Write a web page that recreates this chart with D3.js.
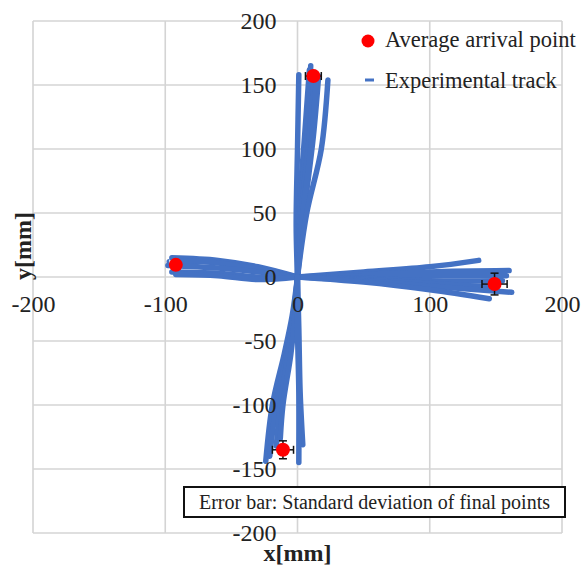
<!DOCTYPE html>
<html><head><meta charset="utf-8">
<script src="https://cdn.jsdelivr.net/npm/d3@7"></script>
<style>html,body{margin:0;padding:0;background:#fff;}svg{display:block;}</style>
</head><body>
<script>
// ---- data ----
const xTicks = [-200, -100, 0, 100, 200];
const yTicks = [200, 150, 100, 50, 0, -50, -100, -150, -200];

const tracksUp = [
  [[0,0],[-1,40],[0,100],[1,158]],
  [[0,0],[1,50],[5,105],[9,162]],
  [[0,0],[2,50],[7,110],[10,165]],
  [[0,0],[3,50],[9,110],[13,160]],
  [[0,0],[5,50],[12,110],[16,157]],
  [[0,0],[4,50],[10,100],[14,150]],
  [[0,0],[7,50],[18,100],[23,154]]
];
const tracksRight = [
  [[0,0],[50,4],[100,8],[137,13]],
  [[0,0],[50,2],[100,4],[160,5]],
  [[0,0],[50,1],[100,1],[158,1]],
  [[0,0],[50,-1],[100,-3],[155,-3]],
  [[0,0],[50,-2],[100,-5],[150,-8]],
  [[0,0],[50,-3],[100,-7],[162,-12]],
  [[0,0],[50,-4],[100,-10],[145,-17]]
];
const tracksLeft = [
  [[0,0],[-30,8],[-60,13],[-95,15]],
  [[0,0],[-30,6],[-60,11],[-97,12]],
  [[0,0],[-30,4],[-60,7],[-98,9]],
  [[0,0],[-30,0],[-60,3],[-95,4]],
  [[0,0],[-30,-2],[-60,1],[-92,2]]
];
const tracksDown = [
  [[0,0],[-4,-30],[-10,-60],[-19,-100],[-24,-144]],
  [[0,0],[-3,-30],[-8,-60],[-16,-100],[-21,-140]],
  [[0,0],[-3,-30],[-7,-60],[-13,-100],[-16,-132]],
  [[0,0],[-2,-30],[-5,-60],[-11,-100],[-13,-126]],
  [[0,0],[1,-40],[2,-90],[4,-131]],
  [[0,0],[0,-40],[1,-90],[1,-145]]
];
const avgX = [12, 149, -92, -11];
const avgY = [157, -5.5, 9.5, -135];
const errX = [6, 9.5, 3, 8];
const errY = [2, 8.5, 2, 7];

const legendLabels = ["Average arrival point", "Experimental track"];
const noteText = "Error bar: Standard deviation of final points";

// ---- drawing ----
const W = 583, H = 570;
const svg = d3.select("body").append("svg").attr("width", W).attr("height", H)
  .style("font-family", "'Liberation Serif','Times New Roman',serif");

const x = d3.scaleLinear().domain([-200, 200]).range([33, 562]);
const y = d3.scaleLinear().domain([-200, 200]).range([533, 21]);

// grid
const grid = svg.append("g").attr("stroke", "#d4d4d4").attr("stroke-width", 1.6);
grid.selectAll("line.v").data(xTicks).join("line")
  .attr("x1", d => x(d)).attr("x2", d => x(d)).attr("y1", y(200)).attr("y2", y(-200));
grid.selectAll("line.h").data(yTicks).join("line")
  .attr("y1", d => y(d)).attr("y2", d => y(d)).attr("x1", x(-200)).attr("x2", x(200));

// tracks
const line = d3.line().x(d => x(d[0])).y(d => y(d[1])).curve(d3.curveCatmullRom);
const allTracks = [].concat(tracksUp, tracksRight, tracksLeft, tracksDown);
svg.append("g").selectAll("path").data(allTracks).join("path")
  .attr("d", line).attr("fill", "none").attr("stroke", "#4472C4")
  .attr("stroke-width", 5.5).attr("stroke-linecap", "round").attr("stroke-linejoin", "round");

// axes labels
const fmt = d => String(d);
const yAxis = d3.axisLeft(y).tickValues(yTicks).tickFormat(fmt).tickSize(0).tickPadding(21);
const gy = svg.append("g").attr("transform", `translate(${x(0)},0)`).call(yAxis);
const xAxis = d3.axisBottom(x).tickValues(xTicks).tickFormat(fmt).tickSize(0).tickPadding(18);
const gx = svg.append("g").attr("transform", `translate(0,${y(0)})`).call(xAxis);
[gx, gy].forEach(g => {
  g.select(".domain").remove();
  g.selectAll("text").attr("font-size", 24).attr("fill", "#222")
    .style("font-family", "'Liberation Serif','Times New Roman',serif");
});

// error bars
const pts = avgX.map((v, i) => ({x: v, y: avgY[i], ex: errX[i], ey: errY[i]}));
const eb = svg.append("g").attr("stroke", "#111").attr("stroke-width", 1.5);
pts.forEach(p => {
  eb.append("line").attr("x1", x(p.x - p.ex)).attr("x2", x(p.x + p.ex)).attr("y1", y(p.y)).attr("y2", y(p.y));
  eb.append("line").attr("x1", x(p.x)).attr("x2", x(p.x)).attr("y1", y(p.y - p.ey)).attr("y2", y(p.y + p.ey));
  [p.x - p.ex, p.x + p.ex].forEach(v => eb.append("line").attr("x1", x(v)).attr("x2", x(v)).attr("y1", y(p.y) - 4).attr("y2", y(p.y) + 4));
  [p.y - p.ey, p.y + p.ey].forEach(v => eb.append("line").attr("y1", y(v)).attr("y2", y(v)).attr("x1", x(p.x) - 4).attr("x2", x(p.x) + 4));
});
svg.append("g").selectAll("circle").data(pts).join("circle")
  .attr("cx", d => x(d.x)).attr("cy", d => y(d.y)).attr("r", 7).attr("fill", "#FF0000");

// legend
const lg = svg.append("g");
lg.append("circle").attr("cx", 368).attr("cy", 41).attr("r", 6.5).attr("fill", "#FF0000");
lg.append("line").attr("x1", 365).attr("x2", 374).attr("y1", 80).attr("y2", 80)
  .attr("stroke", "#4472C4").attr("stroke-width", 3);
lg.selectAll("text").data(legendLabels).join("text")
  .attr("x", 385).attr("y", (d, i) => i === 0 ? 47 : 88)
  .attr("font-size", 22.5).attr("fill", "#222").text(d => d);

// note box
svg.append("rect").attr("x", 184).attr("y", 487).attr("width", 381).attr("height", 30)
  .attr("fill", "#fff").attr("stroke", "#111").attr("stroke-width", 2);
svg.append("text").attr("x", 374.5).attr("y", 509).attr("text-anchor", "middle")
  .attr("font-size", 20).attr("fill", "#222").text(noteText);

// axis titles
svg.append("text").attr("x", x(0)).attr("y", 561).attr("text-anchor", "middle")
  .attr("font-size", 24).attr("font-weight", "bold").attr("fill", "#222").text("x[mm]");
svg.append("text").attr("transform", "translate(31,246) rotate(-90)").attr("text-anchor", "middle")
  .attr("font-size", 24).attr("font-weight", "bold").attr("fill", "#222").text("y[mm]");
</script>
</body></html>
